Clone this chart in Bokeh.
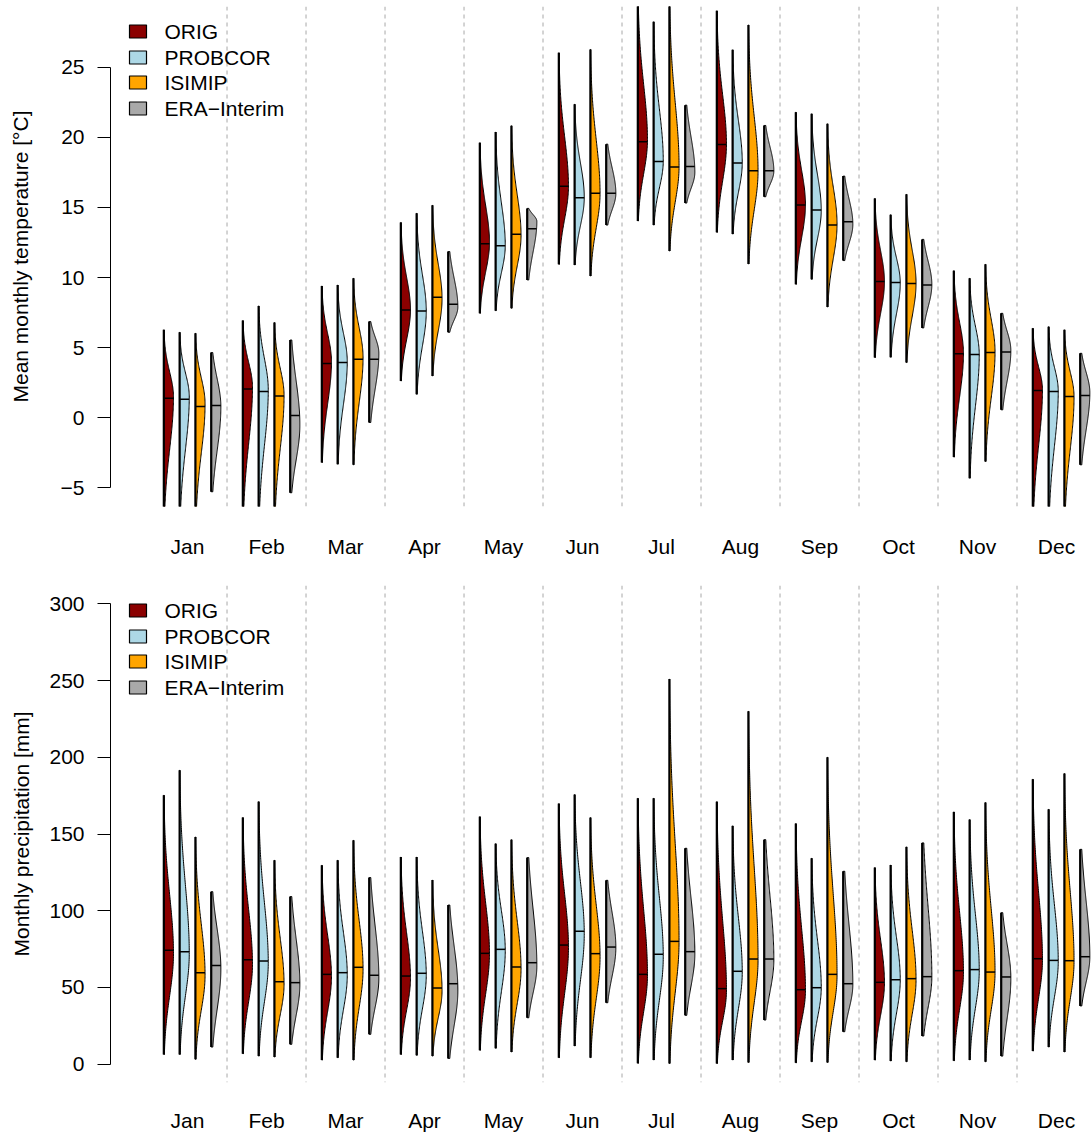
import numpy as np
from bokeh.plotting import figure
from bokeh.layouts import column
from bokeh.models import FixedTicker, Range1d, Span
from bokeh.embed import file_html
from bokeh.resources import INLINE
from bokeh.core.properties import value

# ---------------- data ----------------
months = ["Jan", "Feb", "Mar", "Apr", "May", "Jun", "Jul", "Aug", "Sep", "Oct", "Nov", "Dec"]
datasets = ["ORIG", "PROBCOR", "ISIMIP", "ERA\u2212Interim"]
colors = ["#8B0000", "#ADD8E6", "#FFA500", "#A9A9A9"]

# Mean monthly temperature [°C]: min / median / max / density peak per month
t_orig_min = [-7.5, -7.5, -3.18, 2.63, 7.45, 10.94, 14.03, 13.22, 9.52, 4.30, -2.80, -7.5]
t_orig_med = [1.40, 2.06, 3.87, 7.69, 12.41, 16.50, 19.68, 19.49, 15.17, 9.71, 4.56, 1.95]
t_orig_max = [6.27, 6.93, 9.40, 13.93, 19.61, 26.02, 30.5, 29.01, 21.79, 15.64, 10.49, 6.38]
t_orig_pk = [1.5, 2.2, 4.0, 7.7, 12.5, 16.5, 19.8, 19.5, 15.2, 9.7, 4.6, 2.0]

t_prob_min = [-7.5, -7.5, -3.30, 1.68, 7.64, 10.90, 13.74, 13.10, 9.87, 4.32, -4.30, -7.5]
t_prob_med = [1.33, 1.87, 3.94, 7.62, 12.27, 15.69, 18.28, 18.16, 14.81, 9.64, 4.51, 1.87]
t_prob_max = [6.10, 7.98, 9.47, 14.58, 20.37, 22.36, 28.23, 26.23, 21.67, 14.48, 9.95, 6.50]
t_prob_pk = [1.5, 2.0, 4.0, 7.6, 12.3, 15.7, 18.3, 18.2, 14.8, 9.6, 4.5, 1.9]

t_isi_min = [-7.5, -7.5, -3.35, 2.99, 7.81, 10.11, 11.89, 10.97, 7.90, 3.94, -3.11, -7.5]
t_isi_med = [0.81, 1.56, 4.18, 8.59, 13.08, 16.00, 17.88, 17.61, 13.74, 9.57, 4.65, 1.52]
t_isi_max = [6.03, 6.79, 9.95, 15.15, 20.82, 26.26, 30.2, 28.01, 20.96, 15.93, 10.94, 6.27]
t_isi_pk = [1.0, 1.6, 4.3, 8.5, 13.0, 16.0, 17.9, 17.6, 13.8, 9.6, 4.7, 1.5]

t_era_min = [-5.27, -5.34, -0.33, 6.10, 9.83, 13.74, 15.31, 15.76, 11.21, 6.41, 0.57, -3.35]
t_era_med = [0.88, 0.17, 4.18, 8.09, 13.48, 16.00, 17.92, 17.61, 13.98, 9.47, 4.70, 1.59]
t_era_max = [4.65, 5.55, 6.86, 11.85, 14.93, 19.51, 22.29, 20.84, 17.23, 12.72, 7.45, 4.60]
t_era_pk = [0.8, -0.5, 4.6, 7.9, 14.0, 16.0, 17.5, 17.6, 13.8, 9.5, 4.8, 1.8]

# Monthly precipitation [mm]: min / median / max / density peak per month
p_orig_min = [6.3, 6.8, 2.6, 6.3, 9.0, 4.2, 0.5, 0.4, 0.8, 2.6, 2.2, 8.5]
p_orig_med = [74.2, 68.1, 58.5, 57.4, 72.2, 77.6, 58.5, 49.2, 48.5, 53.3, 60.9, 68.7]
p_orig_max = [175.3, 160.7, 129.6, 135.0, 161.3, 169.8, 173.3, 171.1, 156.8, 128.1, 164.4, 185.7]
p_orig_pk = [72, 65, 57, 56, 72, 76, 58, 48, 48, 53, 60, 68]

p_prob_min = [6.3, 5.2, 4.2, 5.7, 10.3, 11.8, 2.7, 2.7, 1.5, 2.0, 2.7, 11.1]
p_prob_med = [73.3, 67.2, 59.6, 59.2, 74.8, 86.6, 71.6, 60.5, 49.8, 55.0, 61.6, 67.6]
p_prob_max = [191.6, 171.1, 132.9, 135.0, 143.7, 175.7, 173.3, 155.3, 134.2, 129.8, 159.4, 166.1]
p_prob_pk = [72, 66, 58, 58, 74, 85, 70, 60, 50, 55, 61, 67]

p_isi_min = [3.1, 4.6, 2.6, 5.2, 7.9, 4.2, 0.4, 1.1, 1.1, 1.5, 1.5, 7.9]
p_isi_med = [59.6, 53.7, 63.1, 49.6, 63.3, 72.0, 80.0, 68.5, 58.5, 55.7, 60.0, 67.4]
p_isi_max = [148.1, 132.9, 145.9, 120.0, 146.3, 160.7, 251.0, 230.0, 200.1, 141.6, 170.5, 189.4]
p_isi_pk = [58, 52, 62, 48, 62, 70, 80, 68, 58, 55, 60, 67]

p_era_min = [11.1, 12.9, 19.4, 3.7, 30.2, 40.0, 31.8, 28.7, 21.1, 18.3, 5.2, 37.9]
p_era_med = [64.2, 53.1, 57.9, 52.4, 66.1, 76.3, 73.3, 68.5, 52.4, 57.0, 56.8, 70.0]
p_era_max = [112.4, 109.2, 121.6, 103.7, 134.6, 119.8, 140.7, 146.3, 125.7, 144.2, 98.7, 140.0]
p_era_pk = [62, 52, 56, 48, 64, 76, 72, 68, 52, 57, 56, 70]

temp_sets = [
    (t_orig_min, t_orig_med, t_orig_max, t_orig_pk),
    (t_prob_min, t_prob_med, t_prob_max, t_prob_pk),
    (t_isi_min, t_isi_med, t_isi_max, t_isi_pk),
    (t_era_min, t_era_med, t_era_max, t_era_pk),
]
prec_sets = [
    (p_orig_min, p_orig_med, p_orig_max, p_orig_pk),
    (p_prob_min, p_prob_med, p_prob_max, p_prob_pk),
    (p_isi_min, p_isi_med, p_isi_max, p_isi_pk),
    (p_era_min, p_era_med, p_era_max, p_era_pk),
]

# ---------------- styling ----------------
FONT = "Liberation Sans"
FS = "21px"
OFFSETS = [-0.3, -0.1, 0.1, 0.3]
HALF = 0.122          # max half-violin width in month units
X_RANGE = (0.025, 12.443)
FIG_W = 1091
BORDER_L = 110
FRAME_W = FIG_W - BORDER_L


def half_width(y, lo, hi, pk, k_lo, k_hi):
    s_lo = max(pk - lo, 1e-6) / k_lo
    s_hi = max(hi - pk, 1e-6) / k_hi
    d = np.where(y < pk, (y - pk) / s_lo, (y - pk) / s_hi)
    return HALF * np.exp(-0.5 * d * d)


def make_panel(sets, ylabel, y_range, ticks, bounds, overrides, height,
               b_top, b_bottom, label_standoff, x_standoff):
    frame_h = height - b_top - b_bottom
    p = figure(width=FIG_W, height=height, output_backend="svg", toolbar_location=None,
               x_range=Range1d(*X_RANGE), y_range=Range1d(*y_range),
               min_border_left=BORDER_L, min_border_right=0,
               min_border_top=b_top, min_border_bottom=b_bottom)
    p.outline_line_color = None
    p.grid.visible = False
    p.background_fill_color = "white"
    p.border_fill_color = "white"

    for m in range(11):
        p.add_layout(Span(location=m + 1.5, dimension="height", line_color="#A8A8A8",
                          line_dash="4 4", line_width=1, level="underlay"))

    for i, (mins, meds, maxs, pks) in enumerate(sets):
        k_lo, k_hi = (1.9, 1.9) if i == 3 else (2.4, 2.7)
        xs_all, ys_all = [], []
        sx, sy0, sy1 = [], [], []
        mx0, mx1, my = [], [], []
        for m in range(12):
            x0 = m + 1 + OFFSETS[i]
            lo, md, hi, pk = mins[m], meds[m], maxs[m], pks[m]
            yy = np.linspace(lo, hi, 160)
            ww = half_width(yy, lo, hi, pk, k_lo, k_hi)
            xs_all.append(list(np.concatenate([[x0], x0 + ww, [x0]])))
            ys_all.append(list(np.concatenate([[lo], yy, [hi]])))
            sx.append(x0); sy0.append(lo); sy1.append(hi)
            wm = float(half_width(np.array([md]), lo, hi, pk, k_lo, k_hi)[0])
            mx0.append(x0); mx1.append(x0 + wm); my.append(md)
        p.patches(xs_all, ys_all, fill_color=colors[i], line_color="black", line_width=1)
        p.segment(x0=sx, y0=sy0, x1=sx, y1=sy1, line_color="black", line_width=2.2)
        p.segment(x0=mx0, y0=my, x1=mx1, y1=my, line_color="black", line_width=1.5)

    # legend (top-left, drawn as glyphs)
    yr = y_range[1] - y_range[0]
    rows = [25, 51, 76, 102]
    ly = [y_range[1] - r * yr / frame_h for r in rows]
    px_per_x = FRAME_W / (X_RANGE[1] - X_RANGE[0])
    lx_box = X_RANGE[0] + 27.5 / px_per_x
    lx_txt = X_RANGE[0] + 54 / px_per_x
    p.rect(x=[lx_box] * 4, y=ly, width=17, height=13, width_units="screen",
           height_units="screen", fill_color=colors, line_color="black", line_width=1.2)
    p.text(x=[lx_txt] * 4, y=ly, text=datasets, text_font=value(FONT), text_font_size=FS,
           text_baseline="middle", text_align="left", text_color="black")

    # axes
    ya = p.yaxis[0]
    ya.ticker = FixedTicker(ticks=ticks)
    ya.bounds = bounds
    ya.major_label_overrides = overrides
    ya.major_tick_out = 13
    ya.major_tick_in = 0
    ya.minor_tick_line_color = None
    ya.axis_line_color = "black"
    ya.major_tick_line_color = "black"
    ya.major_label_standoff = 13
    ya.major_label_text_font = FONT
    ya.major_label_text_font_size = FS
    ya.major_label_text_color = "black"
    ya.axis_label = ylabel
    ya.axis_label_text_font = FONT
    ya.axis_label_text_font_size = FS
    ya.axis_label_text_font_style = "normal"
    ya.axis_label_text_color = "black"
    ya.axis_label_standoff = label_standoff

    xa = p.xaxis[0]
    xa.ticker = FixedTicker(ticks=list(range(1, 13)))
    xa.major_label_overrides = {i + 1: mname for i, mname in enumerate(months)}
    xa.axis_line_color = None
    xa.major_tick_line_color = None
    xa.minor_tick_line_color = None
    xa.major_tick_out = 0
    xa.major_tick_in = 0
    xa.major_label_standoff = x_standoff
    xa.major_label_text_font = FONT
    xa.major_label_text_font_size = FS
    xa.major_label_text_color = "black"
    return p


p1 = make_panel(temp_sets, "Mean monthly temperature [\u00b0C]", (-6.32, 29.32),
                [-5, 0, 5, 10, 15, 20, 25], (-5, 25), {-5: "\u22125"},
                height=580, b_top=6, b_bottom=74, label_standoff=26, x_standoff=28)
p2 = make_panel(prec_sets, "Monthly precipitation [mm]", (-12, 312),
                [0, 50, 100, 150, 200, 250, 300], (0, 300), {},
                height=554, b_top=5, b_bottom=52, label_standoff=13, x_standoff=26)

layout = column(p1, p2, spacing=0)
open("out.html", "w").write(file_html(layout, INLINE))
